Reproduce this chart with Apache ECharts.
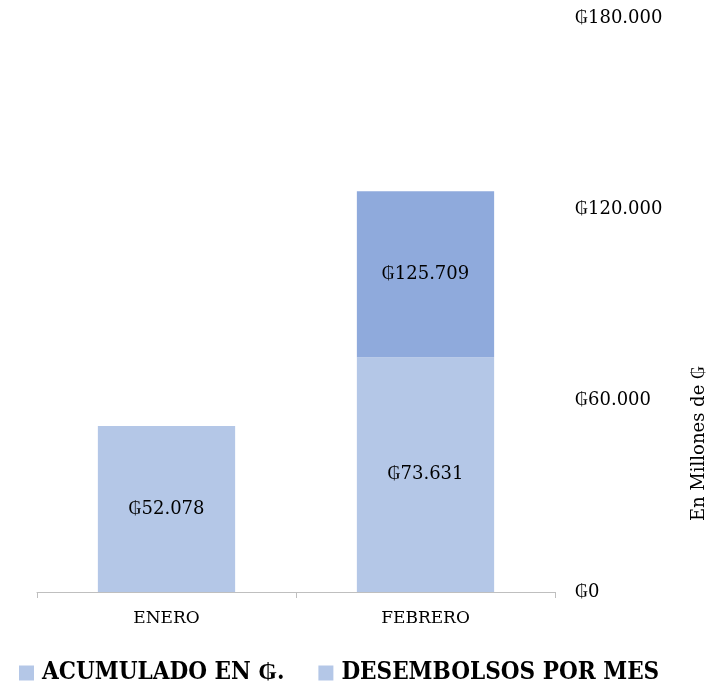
<!DOCTYPE html>
<html>
<head>
<meta charset="utf-8">
<style>
  html, body { margin: 0; padding: 0; background: #fff; }
  #chart { width: 722px; height: 687px; }
</style>
<script src="https://cdn.jsdelivr.net/npm/echarts@6/dist/echarts.min.js"></script>
</head>
<body>
<div id="chart"></div>
<script>
// values in millions of guaraníes
const months = ['ENERO', 'FEBRERO'];
const desembolsos = [52078, 73631];
const acumulado = [52078, 125709];
const yTicks = [0, 60000, 120000, 180000];

const lightBlue = '#B4C7E7';
const darkBlue = '#8FAADC';
const serif = '"DejaVu Serif", "Liberation Serif", serif';
const legendFont = '"DejaVu Serif Condensed", "Liberation Serif", serif';

// top segment = what was added on top of this month's disbursement
const acumSegment = acumulado.map((v, i) => v - desembolsos[i]);

function gs(v) {
  return '\u20B2' + String(v).replace(/\B(?=(\d{3})+(?!\d))/g, '.');
}

const chart = echarts.init(document.getElementById('chart'));
chart.setOption({
  animation: false,
  textStyle: { fontFamily: serif },
  grid: { left: 37, right: 167, top: 18, bottom: 95 },
  legend: {
    left: 14,
    bottom: -3,
    icon: 'rect',
    itemWidth: 15,
    itemHeight: 15,
    itemGap: 34,
    textStyle: { fontFamily: legendFont, fontSize: 24, fontWeight: 'bold', color: '#000', padding: [0, 0, 0, 3] },
    data: [
      { name: 'ACUMULADO EN \u20B2.', itemStyle: { color: lightBlue } },
      { name: 'DESEMBOLSOS POR MES', itemStyle: { color: lightBlue } }
    ]
  },
  xAxis: {
    type: 'category',
    data: months,
    axisLine: { lineStyle: { color: '#bfbfbf' } },
    axisTick: { show: true, length: 6, lineStyle: { color: '#bfbfbf' } },
    axisLabel: { color: '#000', fontSize: 17, margin: 18, fontFamily: serif }
  },
  yAxis: {
    type: 'value',
    position: 'right',
    min: yTicks[0],
    max: yTicks[yTicks.length - 1],
    interval: 60000,
    axisLine: { show: false },
    axisTick: { show: false },
    splitLine: { show: false },
    axisLabel: { color: '#000', fontSize: 18, margin: 20, fontFamily: serif, formatter: v => gs(v) }
  },
  graphic: [{
    type: 'text',
    left: 690,
    top: 366,
    rotation: Math.PI / 2,
    style: { text: 'En Millones de \u20B2', font: '18px ' + serif, fill: '#000' }
  }],
  series: [
    {
      name: 'DESEMBOLSOS POR MES',
      type: 'bar',
      stack: 'total',
      barWidth: '53%',
      data: desembolsos,
      itemStyle: { color: lightBlue },
      label: { show: true, position: 'inside', color: '#000', fontSize: 18, fontFamily: serif, formatter: p => gs(p.value) }
    },
    {
      name: 'ACUMULADO EN \u20B2.',
      type: 'bar',
      stack: 'total',
      data: acumSegment,
      itemStyle: { color: darkBlue },
      label: {
        show: true, position: 'inside', color: '#000', fontSize: 18, fontFamily: serif,
        formatter: p => p.value > 0 ? gs(acumulado[p.dataIndex]) : ''
      }
    }
  ]
});
</script>
</body>
</html>
